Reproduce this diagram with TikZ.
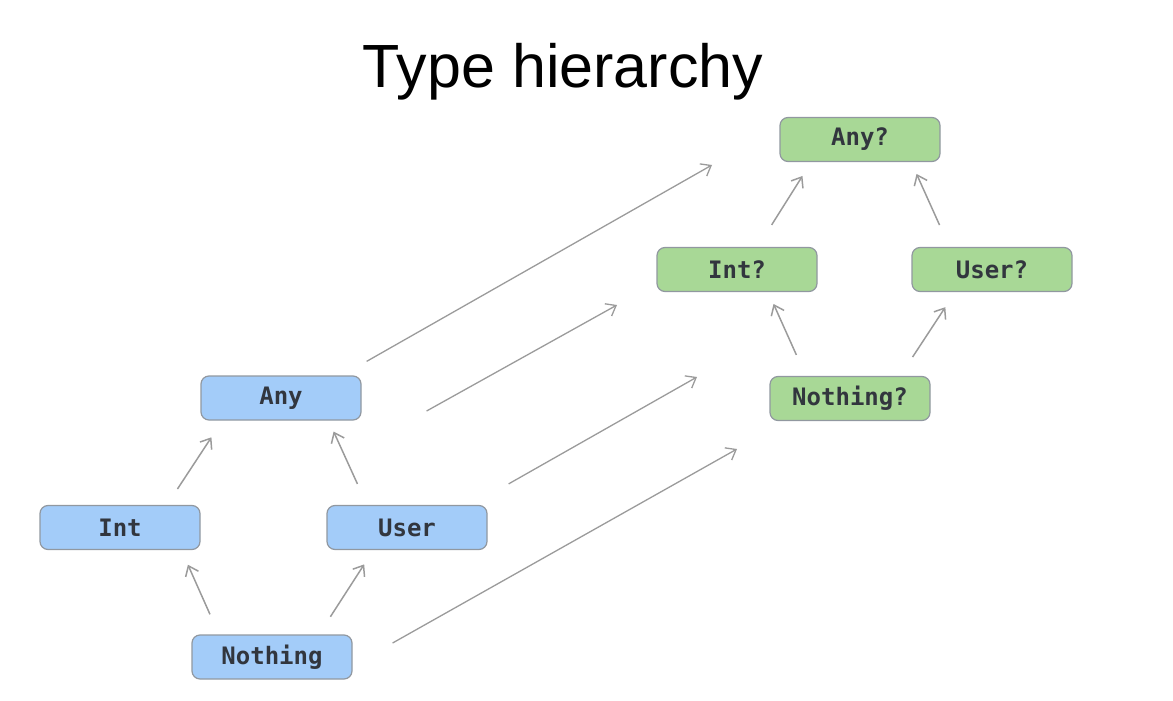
\documentclass[tikz,border=0pt]{standalone}
\usepackage{fontspec}
\setmainfont{Liberation Sans}
\newfontfamily\boxfont{DejaVu Sans Mono}
\usetikzlibrary{arrows.meta}

\tikzset{
  typebox/.style={draw=BoxBorder,line width=0.6pt,rounded corners=4pt,minimum width=80pt,minimum height=22pt,inner sep=0pt,text=BoxText,font=\boxfont\bfseries\fontsize{12}{14}\selectfont},
  plainbox/.style={typebox,fill=PlainFill},
  nullbox/.style={typebox,fill=NullFill},
  subarrow/.style={draw=ArrowGrey,line width=0.75pt,-{Straight Barb[length=4.5pt,width=7pt]}},
  liftarrow/.style={draw=ArrowGrey,line width=0.65pt,-{Straight Barb[length=4.5pt,width=7pt]}}
}

\begin{document}
\begin{tikzpicture}[x=0.5pt,y=-0.5pt]

%Defining colors
\definecolor{PlainFill}{RGB}{163,204,249}
\definecolor{NullFill}{RGB}{168,216,150}
\definecolor{BoxBorder}{RGB}{145,152,160}
\definecolor{BoxText}{RGB}{50,54,62}
\definecolor{ArrowGrey}{RGB}{155,155,155}

%Frame of the slide
\useasboundingbox (0,0) rectangle (1173,701);

%Title
\node[font=\fontsize{30.5}{36}\selectfont,anchor=base] (title) at (563,88){Type hierarchy}  ;

%Non-null types
\node[plainbox] (any) at (281,398){Any}  ;
\node[plainbox] (int) at (120,527.5){Int}  ;
\node[plainbox] (user) at (407,527.5){User}  ;
\node[plainbox] (nothing) at (272,657){Nothing}  ;

%Nullable types
\node[nullbox] (anyq) at (860,139.5){Any?}  ;
\node[nullbox] (intq) at (737,269.5){Int?}  ;
\node[nullbox] (userq) at (992,269.5){User?}  ;
\node[nullbox] (nothingq) at (850,398.5){Nothing?}  ;

%Subtype arrows, non-null side
\draw[subarrow,shorten <=11pt,shorten >=8pt] ([xshift=13.75pt]nothing.north west) -- ([xshift=-9.6pt]int.south east);
\draw[subarrow,shorten <=10.5pt,shorten >=8.5pt] ([xshift=-16.8pt]nothing.north east) -- ([xshift=23.5pt]user.south west);
\draw[subarrow,shorten <=9.5pt,shorten >=10pt] ([xshift=-16.8pt]int.north east) -- ([xshift=11pt]any.south west);
\draw[subarrow,shorten <=11.5pt,shorten >=6pt] ([xshift=20.3pt]user.north west) -- ([xshift=-16.5pt]any.south east);

%Subtype arrows, nullable side
\draw[subarrow,shorten <=11.5pt,shorten >=6.5pt] ([xshift=18.2pt]nothingq.north west) -- ([xshift=-24.7pt]intq.south east);
\draw[subarrow,shorten <=11.3pt,shorten >=9pt] ([xshift=-15.2pt]nothingq.north east) -- ([xshift=21.9pt]userq.south west);
\draw[subarrow,shorten <=13pt,shorten >=8.2pt] ([xshift=-29.9pt]intq.north east) -- ([xshift=15.9pt]anyq.south west);
\draw[subarrow,shorten <=12pt,shorten >=6.5pt] ([xshift=19pt]userq.north west) -- ([xshift=-14.7pt]anyq.south east);

%Lifting arrows T -> T?
\coordinate (tipAny) at (712,165);
\coordinate (tipInt) at (617,305);
\coordinate (tipUser) at (697,377);
\coordinate (tipNothing) at (737,449);
\draw[liftarrow] ([shift={(5,-14)}]any.north east) -- (tipAny);
\draw[liftarrow] ([shift={(65,13)}]any.east) -- (tipInt);
\draw[liftarrow] ([shift={(21,-21)}]user.north east) -- (tipUser);
\draw[liftarrow] ([shift={(40,-14)}]nothing.east) -- (tipNothing);

\end{tikzpicture}
\end{document}
